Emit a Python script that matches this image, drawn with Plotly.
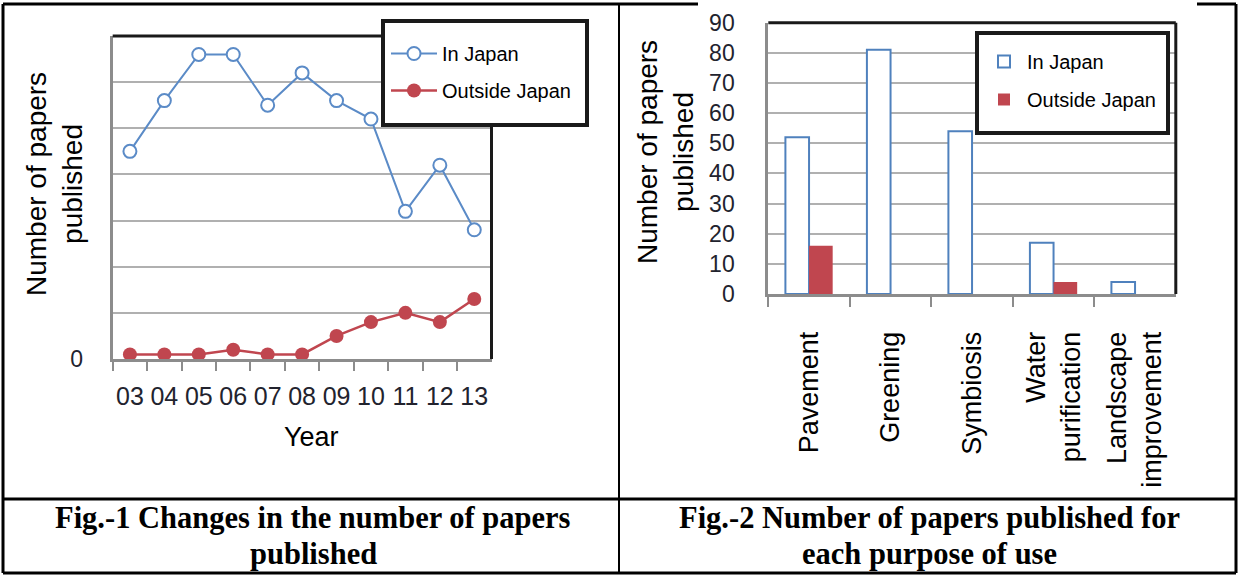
import plotly.graph_objects as go

# Fig.-1: papers published per year
years = ["03", "04", "05", "06", "07", "08", "09", "10", "11", "12", "13"]
papers_in_japan = [45, 56, 66, 66, 55, 62, 56, 52, 32, 42, 28]
papers_outside_japan = [1, 1, 1, 2, 1, 1, 5, 8, 10, 8, 13]

# Fig.-2: papers published per purpose of use
purposes = ["Pavement", "Greening", "Symbiosis", "Water<br>purification", "Landscape<br>improvement"]
purpose_in_japan = [52, 81, 54, 17, 4]
purpose_outside_japan = [16, 0, 0, 4, 0]

W, H = 1238, 575


def px(x):
    return x / W


def py(y):
    return 1 - y / H


BLUE = "#5b8bc7"
RED = "#c0464f"
GRID = "#b0b0b0"
AXIS = "#8c8c8c"
TICKTXT = "#22232e"
SANS = "Liberation Sans, Arial, sans-serif"
SERIF = "Liberation Serif, Times New Roman, serif"

fig = go.Figure()

fig.add_trace(go.Scatter(
    x=years, y=papers_in_japan, name="In Japan", mode="lines+markers",
    line=dict(color=BLUE, width=2),
    marker=dict(symbol="circle", size=13, color="white", line=dict(color=BLUE, width=2)),
    xaxis="x", yaxis="y", legend="legend", legendgroup="in", cliponaxis=False,
))
fig.add_trace(go.Scatter(
    x=years, y=papers_outside_japan, name="Outside Japan", mode="lines+markers",
    line=dict(color=RED, width=2.5),
    marker=dict(symbol="circle", size=14, color=RED),
    xaxis="x", yaxis="y", legend="legend", legendgroup="out", cliponaxis=False,
))

fig.add_trace(go.Bar(
    x=purposes, y=purpose_in_japan, name="In Japan",
    marker=dict(color="white", line=dict(color="#4f81bd", width=2)),
    xaxis="x2", yaxis="y2", legend="legend2", legendgroup="in2",
))
fig.add_trace(go.Bar(
    x=purposes, y=purpose_outside_japan, name="Outside Japan",
    marker=dict(color=RED, line=dict(color=RED, width=0)),
    xaxis="x2", yaxis="y2", legend="legend2", legendgroup="out2",
))

common_x = dict(
    type="category", showline=True, linecolor=AXIS, linewidth=3,
    ticks="outside", tickson="boundaries", tickcolor=AXIS, tickwidth=2,
    showgrid=False, zeroline=False, automargin=False,
)
common_y = dict(
    showline=True, linecolor=AXIS, linewidth=3, ticks="",
    showgrid=True, gridcolor=GRID, gridwidth=2, zeroline=False, automargin=False,
)

legend_common = dict(
    xanchor="left", yanchor="top", bgcolor="rgba(0,0,0,0)", borderwidth=0,
    font=dict(size=20, color="black"), traceorder="grouped",
)

fig.update_layout(
    template="none",
    width=W, height=H,
    margin=dict(l=0, r=0, t=0, b=0, pad=0, autoexpand=False),
    paper_bgcolor="white", plot_bgcolor="white",
    font=dict(family=SANS, color="black"),
    barmode="group", bargap=0.42, bargroupgap=0,
    xaxis=dict(
        common_x, domain=[px(112.7), px(491.5)], anchor="y",
        range=[-0.5, len(years) - 0.5],
        ticklen=9, tickangle=0, tickfont=dict(size=25, color=TICKTXT),
        ticklabelstandoff=13,
    ),
    yaxis=dict(
        common_y, domain=[py(359), py(36)], anchor="x", range=[0, 70],
        tickvals=list(range(0, 71, 10)), ticktext=["0"] + [""] * 7,
        tickfont=dict(size=23, color=TICKTXT), ticklabelstandoff=22,
    ),
    xaxis2=dict(
        common_x, domain=[px(768.3), px(1175.8)], anchor="y2",
        range=[-0.5, len(purposes) - 0.5],
        ticklen=10, tickangle=-90, tickfont=dict(size=27, color="black"),
        ticklabelstandoff=24,
    ),
    yaxis2=dict(
        common_y, domain=[py(294), py(22.7)], anchor="x2", range=[0, 90],
        dtick=10, tickfont=dict(size=23, color=TICKTXT), ticklabelstandoff=26,
    ),
    legend=dict(legend_common, x=px(386), y=py(34), itemwidth=46, tracegroupgap=8),
    legend2=dict(legend_common, x=px(981), y=py(42), itemwidth=36, tracegroupgap=9),
)

shapes = []
# dark top and right edges of both plot frames
for xr, yr in (("x domain", "y domain"), ("x2 domain", "y2 domain")):
    shapes.append(dict(type="line", xref=xr, yref=yr, x0=0, x1=1, y0=1, y1=1,
                       line=dict(color="#1a1a1a", width=3)))
    shapes.append(dict(type="line", xref=xr, yref=yr, x0=1, x1=1, y0=0, y1=1,
                       line=dict(color="#1a1a1a", width=3)))

# legend frames
for x0, y0, x1, y1 in ((383, 21, 587, 125), (977, 33, 1168, 133)):
    shapes.append(dict(type="rect", xref="paper", yref="paper", layer="above",
                       x0=px(x0), y0=py(y0), x1=px(x1), y1=py(y1),
                       fillcolor="white", line=dict(color="#1a1a1a", width=4)))


# table ruling around the two figures and their captions
def rule(x0, y0, x1, y1, w=3):
    shapes.append(dict(type="line", xref="paper", yref="paper", layer="above",
                       x0=px(x0), y0=py(y0), x1=px(x1), y1=py(y1),
                       line=dict(color="black", width=w)))


rule(3, 4, 3, 573)
rule(1236, 4, 1236, 573)
rule(3, 573, 1236, 573)
rule(3, 499, 1236, 499)
rule(619, 4, 619, 573, 2)
rule(3, 4, 619, 4)
rule(619, 4, 698, 4)
rule(1197, 4, 1236, 4)
fig.update_layout(shapes=shapes)

CAPTION = dict(size=30.5, family=SERIF, color="black", weight="bold")
annotations = [
    dict(text="Number of papers<br>published", x=px(54), y=py(184), textangle=-90,
         font=dict(size=28, family=SANS, color="black")),
    dict(text="Year", x=px(311), y=py(437), font=dict(size=27, family=SANS, color="black")),
    dict(text="Number of papers<br>published", x=px(665), y=py(152), textangle=-90,
         font=dict(size=28, family=SANS, color="black")),
    dict(text="Fig.-1 Changes in the number of papers", x=px(313), y=py(518), font=CAPTION),
    dict(text="published", x=px(313), y=py(554), font=CAPTION),
    dict(text="Fig.-2 Number of papers published for", x=px(929), y=py(518), font=CAPTION),
    dict(text="each purpose of use", x=px(929), y=py(554), font=CAPTION),
]
for a in annotations:
    a.update(xref="paper", yref="paper", showarrow=False, xanchor="center", yanchor="middle")
fig.update_layout(annotations=annotations)

fig.write_html("out.html")
